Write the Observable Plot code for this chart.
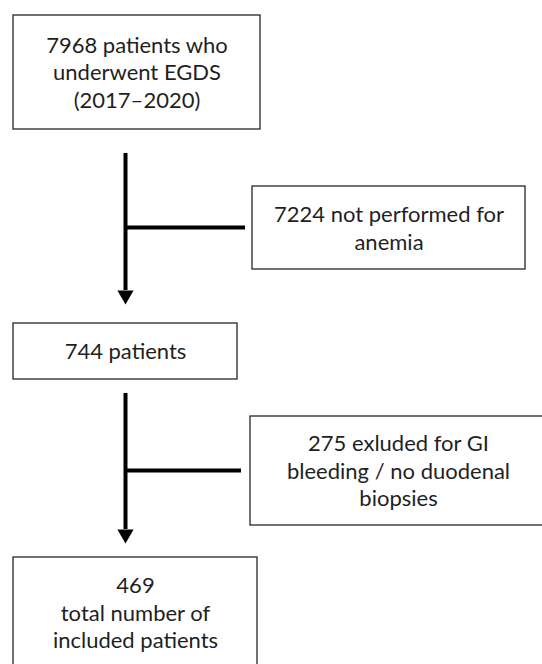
<!DOCTYPE html>
<html>
<head>
<meta charset="utf-8">
<script src="https://cdn.jsdelivr.net/npm/d3@7"></script>
<script src="https://cdn.jsdelivr.net/npm/@observablehq/plot@0.6"></script>
<style>
  html, body { margin: 0; padding: 0; background: #fff; }
  #chart svg { display: block; }
</style>
</head>
<body>
<div id="chart"></div>
<script>
// ---- Data: flow stages and exclusions ----
const stageLabels = [
  "7968 patients who\nunderwent EGDS\n(2017\u20132020)",
  "744 patients",
  "469\ntotal number of\nincluded patients"
];
const stageCounts = [7968, 744, 469];
const exclusionLabels = [
  "7224 not performed for\nanemia",
  "275 exluded for GI\nbleeding / no duodenal\nbiopsies"
];
const exclusionCounts = [7224, 275];

// ---- Layout (page geometry in pixels) ----
const W = 542, H = 664;
const stageBoxes = [
  {x1: 13, x2: 260, y1: 15, y2: 129},
  {x1: 13, x2: 237, y1: 323, y2: 379},
  {x1: 13, x2: 257, y1: 557, y2: 668}
];
const exclusionBoxes = [
  {x1: 252, x2: 525, y1: 186, y2: 269},
  {x1: 250, x2: 546, y1: 416, y2: 525}
];
const spineX = 125;
const arrows = [
  {y1: 153, y2: 290, branchY: 227, branchX2: 245},
  {y1: 393, y2: 529, branchY: 470, branchX2: 241}
];
const headH = 14;

const boxes = [
  ...stageBoxes.map((b, i) => ({...b, label: stageLabels[i], n: stageCounts[i]})),
  ...exclusionBoxes.map((b, i) => ({...b, label: exclusionLabels[i], n: exclusionCounts[i]}))
];
const spines = arrows.map(a => ({x: spineX, y1: a.y1, y2: a.y2}));
const branches = arrows.map(a => ({y: a.branchY, x1: spineX, x2: a.branchX2}));
const heads = arrows.map(a => ({x: spineX, y: a.y2 + headH / 3}));

const plot = Plot.plot({
  width: W,
  height: H,
  margin: 0,
  x: {domain: [0, W], range: [0, W], axis: null},
  y: {domain: [0, H], range: [0, H], axis: null},
  style: {fontFamily: "Lato, 'Open Sans', sans-serif", background: "#fff"},
  marks: [
    Plot.rect(boxes, {x1: "x1", x2: "x2", y1: "y1", y2: "y2", fill: "#fff", stroke: "#262626", strokeWidth: 1.3}),
    Plot.ruleX(spines, {x: "x", y1: "y1", y2: "y2", stroke: "#000", strokeWidth: 4}),
    Plot.ruleY(branches, {y: "y", x1: "x1", x2: "x2", stroke: "#000", strokeWidth: 4}),
    Plot.dot(heads, {x: "x", y: "y", symbol: "triangle", rotate: 180, r: 6, fill: "#000", stroke: "none"}),
    Plot.text(boxes, {
      x: d => (d.x1 + Math.min(d.x2, W + 4)) / 2,
      y: d => (d.y1 + Math.min(d.y2, H + 4)) / 2 - 1,
      text: "label",
      fontSize: 22,
      lineHeight: 1.25,
      fill: "#1f1f1f",
      textAnchor: "middle"
    })
  ]
});
document.getElementById("chart").appendChild(plot);
</script>
</body>
</html>
